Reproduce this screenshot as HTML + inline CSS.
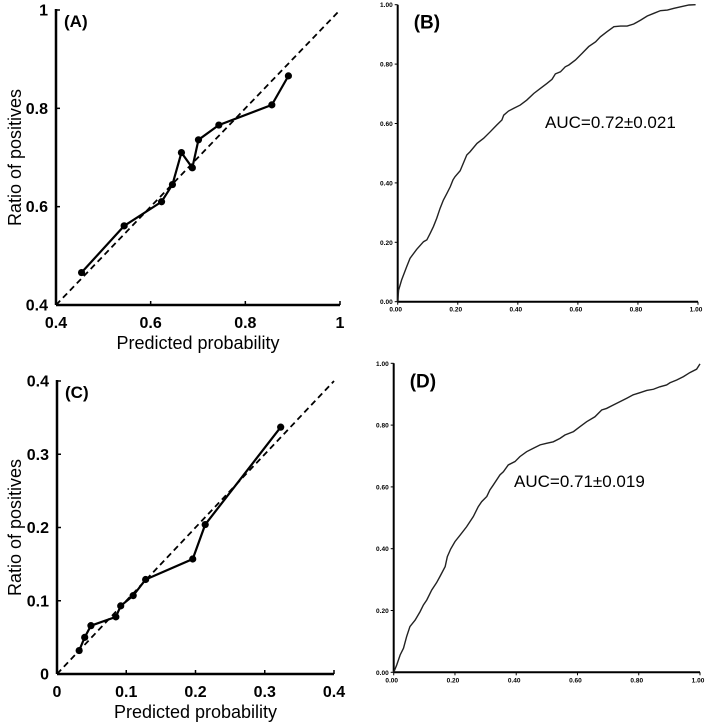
<!DOCTYPE html>
<html><head><meta charset="utf-8"><style>
html,body{margin:0;padding:0;background:#fff;}
svg{display:block;font-family:"Liberation Sans",Arial,sans-serif;}
</style></head><body>
<svg id="fig" width="709" height="722" viewBox="0 0 709 722"></svg>
<script>
// Panel A calibration data
const aPred = [0.454,0.544,0.623,0.646,0.665,0.688,0.701,0.744,0.856,0.891];
const aObs  = [0.466,0.561,0.610,0.645,0.710,0.679,0.736,0.766,0.807,0.866];
const aTicks = [0.4,0.6,0.8,1];
const aTickLabels = ["0.4","0.6","0.8","1"];
// Panel C calibration data
const cPred = [0.032,0.040,0.049,0.085,0.092,0.110,0.128,0.196,0.214,0.323];
const cObs  = [0.032,0.050,0.066,0.078,0.093,0.107,0.129,0.157,0.204,0.337];
const cTicks = [0,0.1,0.2,0.3,0.4];
const cTickLabels = ["0","0.1","0.2","0.3","0.4"];
// Panel B ROC
const bFpr = [0,.003,.013,.030,.041,.063,.086,.097,.108,.119,.130,.141,.152,.164,.175,.184,.191,.208,.230,.241,.264,.286,.308,.330,.347,.353,.369,.386,.408,.430,.453,.475,.497,.514,.525,.542,.558,.570,.592,.614,.636,.659,.675,.697,.720,.742,.764,.786,.809,.831,.853,.875,.898,.920,.942,.970,.992];
const bTpr = [0,.039,.073,.118,.146,.176,.202,.208,.230,.253,.281,.314,.342,.365,.387,.410,.421,.441,.494,.505,.533,.550,.572,.595,.612,.628,.642,.651,.662,.679,.701,.718,.735,.749,.767,.774,.791,.797,.814,.836,.859,.875,.892,.909,.926,.928,.928,.935,.948,.962,.971,.980,.982,.988,.993,.999,1.0];
// Panel D ROC
const dFpr = [0,.010,.021,.032,.042,.053,.070,.086,.097,.108,.124,.140,.151,.168,.175,.186,.200,.217,.238,.260,.276,.287,.304,.314,.325,.347,.358,.374,.396,.412,.434,.456,.478,.499,.521,.543,.559,.587,.608,.630,.657,.679,.695,.717,.739,.761,.782,.804,.826,.848,.869,.891,.902,.924,.946,.967,.989,1];
const dTpr = [0,.024,.056,.078,.115,.148,.169,.196,.218,.234,.266,.290,.310,.342,.374,.399,.423,.444,.471,.504,.536,.552,.569,.590,.606,.639,.649,.671,.682,.698,.714,.725,.736,.741,.746,.757,.768,.779,.795,.811,.827,.849,.854,.865,.876,.887,.898,.905,.912,.916,.924,.930,.937,.946,.957,.970,.981,.998];
const rocTicks = [0,0.2,0.4,0.6,0.8,1];
const rocTickLabels = ["0.00","0.20","0.40","0.60","0.80","1.00"];

const NS="http://www.w3.org/2000/svg";
const svg=document.getElementById('fig');
function mk(tag,attrs,parent){const e=document.createElementNS(NS,tag);for(const k in attrs)e.setAttribute(k,attrs[k]);(parent||svg).appendChild(e);return e;}
function scale(d0,d1,r0,r1){return v=>r0+(v-d0)/(d1-d0)*(r1-r0);}

function calib(id,pred,obs,ticks,labels,x0,x1,y0,y1,lab){
  const g=mk('g',{});
  
  
  const d0=ticks[0],d1=ticks[ticks.length-1];
  const sx=scale(d0,d1,x0,x1), sy=scale(d0,d1,y0,y1);
  const ya=mk('line',{x1:x0,y1:y1-1,x2:x0,y2:y0,stroke:'#000','stroke-width':2.5},g);
  
  const xa=mk('line',{x1:x0,y1:y0,x2:x1,y2:y0,stroke:'#000','stroke-width':2.5},g);
  
  ticks.forEach((t,i)=>{
    mk('line',{x1:x0,x2:x0+4,y1:sy(t),y2:sy(t),stroke:'#000','stroke-width':1.5},g);
    mk('line',{x1:sx(t),x2:sx(t),y1:y0,y2:y0-4,stroke:'#000','stroke-width':1.5},g);
    const ty=mk('text',{x:x0-8,y:sy(t)+5.5,'text-anchor':'end','font-size':16,'font-weight':'bold'},g);ty.textContent=labels[i];
    
    const tx=mk('text',{x:sx(t),y:y0+23,'text-anchor':'middle','font-size':16,'font-weight':'bold'},g);tx.textContent=labels[i];
    
  });
  const diag=mk('line',{x1:sx(d0),y1:sy(d0),x2:sx(d1),y2:sy(d1),stroke:'#000','stroke-width':1.8,'stroke-dasharray':'6,4'},g);
  
  const pts=pred.map((p,i)=>sx(p)+','+sy(obs[i])).join(' ');
  const pl=mk('polyline',{points:pts,fill:'none',stroke:'#000','stroke-width':2.2},g);
  
  pred.forEach((p,i)=>{const c=mk('circle',{cx:sx(p),cy:sy(obs[i]),r:3.6,fill:'#000'},g);
    });
  const l=mk('text',{x:x0+8,y:y1+17,'font-size':17,'font-weight':'bold'},g);l.textContent=lab;
  
  const xt=mk('text',{x:(x0+x1)/2,y:y0+44,'text-anchor':'middle','font-size':18},g);xt.textContent='Predicted probability';
  
  const cy=(y0+y1)/2;
  const yt=mk('text',{x:0,y:0,'text-anchor':'middle','font-size':18,transform:'translate(21,'+cy+') rotate(-90)'},g);yt.textContent='Ratio of positives';
  
}

function roc(id,fpr,tpr,x0,x1,y0,y1,lab,auc,ax,ay){
  const g=mk('g',{});
  
  
  const sx=scale(0,1,x0,x1), sy=scale(0,1,y0,y1);
  const ya=mk('line',{x1:x0,y1:y1,x2:x0,y2:y0,stroke:'#000','stroke-width':2},g);
  
  const xa=mk('line',{x1:x0,y1:y0,x2:x1,y2:y0,stroke:'#000','stroke-width':2},g);
  
  rocTicks.forEach((t,i)=>{
    mk('line',{x1:x0,x2:x0-3,y1:sy(t),y2:sy(t),stroke:'#000','stroke-width':1},g);
    mk('line',{x1:sx(t),x2:sx(t),y1:y0,y2:y0+3,stroke:'#000','stroke-width':1},g);
    const ty=mk('text',{x:x0-5,y:sy(t)+2.5,'text-anchor':'end','font-size':6.5,'font-weight':'bold'},g);ty.textContent=rocTickLabels[i];
    
    const tx=mk('text',{x:sx(t)-2,y:y0+10,'text-anchor':'middle','font-size':6.5,'font-weight':'bold'},g);tx.textContent=rocTickLabels[i];
    
  });
  const pts=fpr.map((p,i)=>sx(p)+','+sy(tpr[i])).join(' ');
  const pl=mk('polyline',{points:pts,fill:'none',stroke:'#222','stroke-width':1.4},g);
  
  const l=mk('text',{x:x0+16,y:y1+24,'font-size':19,'font-weight':'bold'},g);l.textContent=lab;
  
  const a=mk('text',{x:ax,y:ay,'font-size':17},g);a.textContent=auc;
  
}

calib('a',aPred,aObs,aTicks,aTickLabels,56,340,305,10,'(A)');
calib('c',cPred,cObs,cTicks,cTickLabels,57,334,674,381,'(C)');
roc('b',bFpr,bTpr,397.7,698,301.7,4.7,'(B)','AUC=0.72\u00B10.021',545,128);
roc('d',dFpr,dTpr,393.7,700,672.3,363.3,'(D)','AUC=0.71\u00B10.019',514,487);
</script>
</body></html>
